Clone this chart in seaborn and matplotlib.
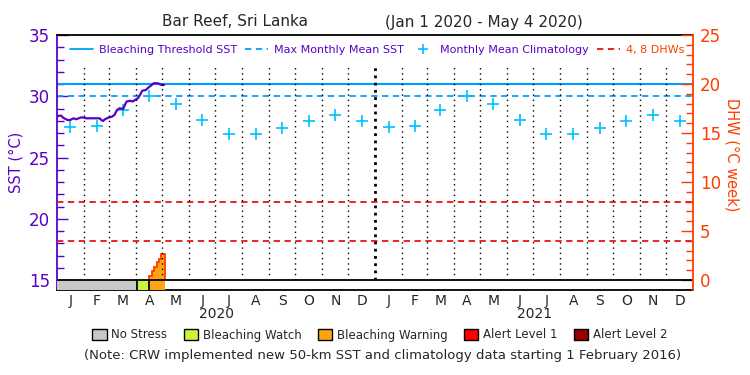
import numpy as np
import pandas as pd
import seaborn as sns
import matplotlib
matplotlib.use('Agg')
import matplotlib.pyplot as plt
import matplotlib.transforms as mtransforms
from matplotlib.lines import Line2D
from matplotlib.patches import Patch

sns.set_style('ticks')
plt.rcParams['font.family'] = ['DejaVu Sans']

PURPLE = '#5a00c8'
ORANGE_RED = '#ff3c00'
CYAN = '#00a0ff'
CLIM_CYAN = '#00c0ff'
DHW_RED = '#e61414'

# Daily SST (day 0 = Jan 1 2020), deg C
sst_day = [0, 2, 5, 7, 12, 15, 19, 22, 25, 28, 31, 34, 40, 46, 49, 51, 53, 55, 59, 63,
           66, 69, 72, 76, 78, 80, 84, 87, 90, 93, 95, 98, 102, 105, 109, 111, 116, 120, 123]
sst_value = [28.33, 28.41, 28.41, 28.25, 28.06, 28.06, 28.2, 28.12, 28.2, 28.28,
             28.25, 28.2, 28.2, 28.2, 28.2, 28.06, 27.98, 28.12, 28.25, 28.33,
             28.47, 28.88, 29.02, 28.96, 29.29, 29.57, 29.63, 29.57, 29.71, 29.84,
             30.06, 30.45, 30.51, 30.71, 30.92, 31.06, 31.06, 30.92, 30.92]

months = ['J', 'F', 'M', 'A', 'M', 'J', 'J', 'A', 'S', 'O', 'N', 'D']
years = ['2020', '2021']
climatology = [27.45, 27.6, 28.9, 30.0, 29.4, 28.05, 26.95, 26.95, 27.4, 27.95, 28.45, 27.95]
bleaching_threshold = 31.0
max_monthly_mean = 30.0
dhw_levels = [4, 8]

# Degree heating weeks (step edges in days, values in deg C week)
dhw_edges = [106.1, 108.8, 111.8, 114.6, 117.6, 119.5, 124.1]
dhw_value = [0.44, 0.92, 1.36, 1.8, 2.14, 2.62]

# Stress level bar
stress_start = [0, 92.3, 106.1]
stress_end = [92.3, 106.1, 124.1]
stress_index = [0, 1, 2]

stress_names = ['No Stress', 'Bleaching Watch', 'Bleaching Warning', 'Alert Level 1', 'Alert Level 2']
stress_colors = ['#c8c8c8', '#c8f53c', '#ffa514', '#ff0000', '#960000']

# Calendar
month_start = (pd.date_range('2020-01-01', '2022-01-01', freq='MS') - pd.Timestamp('2020-01-01')).days.to_numpy()
month_mid = (month_start[:-1] + month_start[1:]) / 2
n_days = month_start[-1]

fig = plt.figure(figsize=(7.5, 3.75), dpi=100)
ax = fig.add_axes([57 / 750, 1 - 290 / 375, 636 / 750, 255 / 375])
ax2 = ax.twinx()

ax.set_xlim(0, n_days)
ax.set_ylim(15 - 10 / 12.25, 35)
ax2.set_ylim(-10 / 9.8, 25)

# SST axis
ax.axhline(bleaching_threshold, color=CYAN, lw=1.5)
ax.axhline(max_monthly_mean, color=CYAN, lw=1.3, dashes=(3.5, 2.5))
sns.scatterplot(x=month_mid, y=climatology * 2, ax=ax, marker='+', s=70,
                color=CLIM_CYAN, linewidth=1.2, zorder=3)
sns.lineplot(x=sst_day, y=sst_value, ax=ax, color=PURPLE, lw=1.6, zorder=4)

# DHW axis
for lvl in dhw_levels:
    ax2.axhline(lvl, color=DHW_RED, lw=1.3, dashes=(3.5, 2.5))
inner = [m for i, m in enumerate(month_start[1:-1], 1) if i != 12]
ax2.vlines(inner, 0, 22.0, colors='black', linestyles=(0, (1, 2.8)), lw=1)
ax2.vlines(month_start[12], 0, 22.0, colors='black', linestyles=(0, (1, 1.6)), lw=2)

ax2.stairs(dhw_value, dhw_edges, baseline=0, fill=True, color=stress_colors[2])
ax2.stairs(dhw_value, dhw_edges, baseline=0, color=ORANGE_RED, lw=1.3)

for s, e, k in zip(stress_start, stress_end, stress_index):
    ax2.barh(-0.51, e - s, left=s, height=1.02, color=stress_colors[k], lw=0)
ax2.vlines(stress_start[1:], -1.02, 0, colors='black', lw=1.3)
ax2.axhline(0, color='black', lw=1.3)

# ticks and spines
ax.set_yticks(range(15, 36, 5))
ax.set_yticks(range(15, 36), minor=True)
ax.tick_params(axis='y', which='major', direction='in', length=8, width=1,
               color=PURPLE, labelcolor=PURPLE, labelsize=12, pad=5)
ax.tick_params(axis='y', which='minor', direction='in', length=4.8, width=1, color=PURPLE)
ax2.set_yticks(range(0, 26, 5))
ax2.set_yticks(range(0, 26), minor=True)
ax2.tick_params(axis='y', which='major', direction='in', length=9, width=1,
                color=ORANGE_RED, labelcolor=ORANGE_RED, labelsize=12, pad=5)
ax2.tick_params(axis='y', which='minor', direction='in', length=4.8, width=1, color=ORANGE_RED)

ax.set_xticks(month_mid)
ax.set_xticklabels(months * 2)
ax.tick_params(axis='x', length=0, labelsize=10, pad=3)
trans = mtransforms.blended_transform_factory(ax.transData, ax.transAxes)
for i, yr in enumerate(years):
    ax.text((month_start[12 * i] + month_start[12 * i + 12]) / 2, -0.095, yr,
            transform=trans, ha='center', va='center', fontsize=10)

for sp in ['top', 'bottom']:
    ax.spines[sp].set_color('black')
    ax.spines[sp].set_linewidth(1.3)
    ax2.spines[sp].set_visible(False)
ax.spines['left'].set_color(PURPLE)
ax.spines['left'].set_linewidth(1.3)
ax.spines['right'].set_visible(False)
ax2.spines['left'].set_visible(False)
ax2.spines['right'].set_color(ORANGE_RED)
ax2.spines['right'].set_linewidth(1.3)

ax.set_ylabel('SST (°C)', color=PURPLE, fontsize=10.5, va='center')
ax.yaxis.set_label_coords((16 - 57) / 636, 0.5)
ax2.set_ylabel('DHW (°C week)', color=ORANGE_RED, fontsize=10.5, rotation=270, va='center')
ax2.yaxis.set_label_coords((732 - 57) / 636, 0.53)

# top legend
handles = [Line2D([], [], color=CYAN, lw=1.3),
           Line2D([], [], color=CYAN, lw=1.3, dashes=(3.5, 2.5)),
           Line2D([], [], color=CLIM_CYAN, marker='+', ls='none', markersize=7, mew=1.2),
           Line2D([], [], color=DHW_RED, lw=1.3, dashes=(3.5, 2.5))]
labels = ['Bleaching Threshold SST', 'Max Monthly Mean SST', 'Monthly Mean Climatology', '4, 8 DHWs']
ax2.legend(handles, labels, loc='center left', bbox_to_anchor=(13 / 636, 240 / 255), ncol=4,
           frameon=False, fontsize=8, labelcolor=[PURPLE] * 3 + [ORANGE_RED],
           handlelength=2.1, handletextpad=0.5, columnspacing=0.7,
           borderaxespad=0, borderpad=0)

# title
fig.text(235 / 750, 1 - 22 / 375, 'Bar Reef, Sri Lanka', ha='center', va='center', fontsize=11)
fig.text(484 / 750, 1 - 22 / 375, '(Jan 1 2020 - May 4 2020)', ha='center', va='center', fontsize=11)

# stress legend
patches = [Patch(facecolor=c, edgecolor='black', lw=1) for c in stress_colors]
fig.legend(patches, stress_names, loc='center', bbox_to_anchor=(380 / 750, 1 - 335 / 375),
           ncol=5, frameon=False, fontsize=8.5, handlelength=1.2, handleheight=1.1,
           handletextpad=0.4, columnspacing=1.4, borderpad=0)

fig.text(383 / 750, 1 - 355 / 375,
         '(Note: CRW implemented new 50-km SST and climatology data starting 1 February 2016)',
         ha='center', va='center', fontsize=9.5)

fig.savefig('out.png', dpi=100)
